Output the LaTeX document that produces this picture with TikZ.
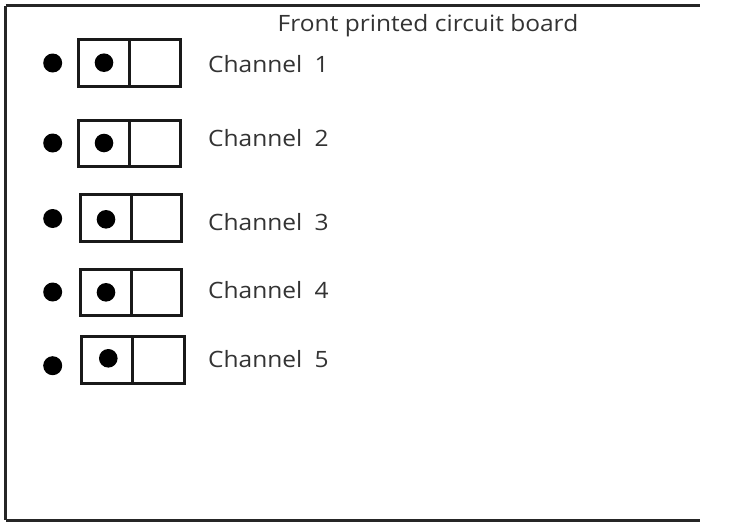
\documentclass[tikz,border=0pt]{standalone}
\usepackage{fontspec}
\setmainfont{Open Sans}
\newcommand{\wide}[1]{\scalebox{1.09}[1]{#1}}
\begin{document}
\begin{tikzpicture}[x=1pt,y=-1pt,
  boardline/.style={line width=3pt,draw=black!85},
  cell/.style={draw=black!90,line width=3pt,inner sep=0pt,outer sep=0pt},
  dotmark/.style={circle,fill=black,inner sep=0pt,minimum size=18.6pt},
  lbl/.style={anchor=base west,inner sep=0pt,text=black!80,font=\fontsize{22.5}{26}\selectfont},
  ttl/.style={anchor=base,inner sep=0pt,text=black!80,font=\fontsize{22.5}{26}\selectfont}]
\useasboundingbox (0,0) rectangle (734,522);
\coordinate (ftr) at (700,5.5);
\coordinate (ftl) at (5.5,5.5);
\coordinate (fbl) at (5.5,520);
\coordinate (fbr) at (700,520);
\draw[boardline] (ftl) -- (ftr);
\draw[boardline] (ftl) -- (fbl);
\draw[boardline] (fbl) -- (fbr);
\node[ttl] (title) at (428,31.7) {\wide{Front printed circuit board}};
% Channel rows: L R T B D innerx innery outerx outery baseline
\foreach \n/\L/\R/\T/\B/\D/\ix/\iy/\ox/\oy/\bl in {
  1/78/180/39/86/129/104/62.7/52.7/63/72.3,
  2/78.3/180/120/166.7/129/104/143/52.7/143/146.7,
  3/80/181.7/194.3/241.7/131/106/219.3/52.7/218.5/230,
  4/80.7/181.7/269.3/315/131/106/292.3/52.7/292/298.3,
  5/81.7/184/336.7/383.3/132.7/108.3/358.3/52.7/365.7/367.3}{
  \node[cell,minimum width={(\D-\L)*1pt},minimum height={(\B-\T)*1pt},anchor=north west] (cl\n) at (\L,\T) {};
  \node[cell,minimum width={(\R-\D)*1pt},minimum height={(\B-\T)*1pt},anchor=north west] (cr\n) at (\D,\T) {};
  \node[dotmark] (di\n) at (\ix,\iy) {};
  \node[dotmark,minimum size=19pt] (do\n) at (\ox,\oy) {};
  \node[lbl] (ch\n) at (208,\bl) {\wide{Channel\hspace{0.5em}\n}};
}
\end{tikzpicture}
\end{document}
